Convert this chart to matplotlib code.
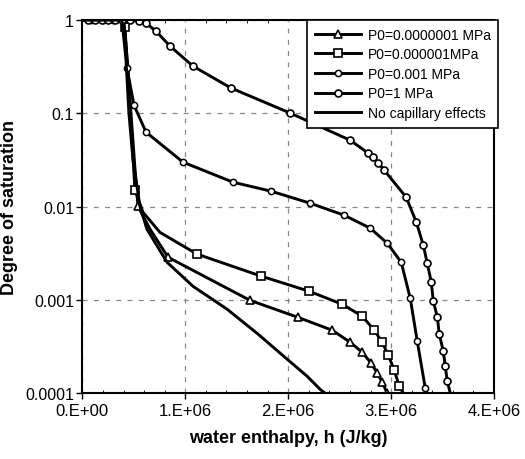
import matplotlib
matplotlib.use('Agg')
import matplotlib.pyplot as plt
import numpy as np
from matplotlib.ticker import FixedLocator, FixedFormatter, MultipleLocator

plt.rcParams['font.family'] = ['Liberation Sans', 'DejaVu Sans']

# enthalpy in 1E+06 J/kg, saturation
h_p1 = [0.0, 0.054, 0.122, 0.19, 0.248, 0.316, 0.384, 0.462, 0.55, 0.618, 0.715, 0.852,
        1.075, 1.445, 2.018, 2.602, 2.777, 2.826, 2.875, 2.933, 3.147, 3.245, 3.313,
        3.351, 3.39, 3.41, 3.449, 3.468, 3.507, 3.526, 3.546, 3.575]
s_p1 = [1, 1, 1, 1, 1, 1, 1, 1, 0.976, 0.929, 0.762, 0.526,
        0.321, 0.187, 0.101, 0.0516, 0.0375, 0.034, 0.0293, 0.0246, 0.0126, 0.00682, 0.00386,
        0.00248, 0.00155, 0.00097, 0.000653, 0.00043, 0.000282, 0.000195, 0.000134, 0.0001]

h_p3 = [0.0, 0.08, 0.2, 0.3, 0.404, 0.433, 0.501, 0.618, 0.978, 1.464, 1.834, 2.213, 2.544,
        2.797, 2.962, 3.098, 3.186, 3.254, 3.332, 3.35]
s_p3 = [1, 1, 1, 1, 1, 0.306, 0.1226, 0.063, 0.030, 0.0183, 0.01466, 0.0109, 0.0081,
        0.00588, 0.00406, 0.00254, 0.00104, 0.000361, 0.000113, 0.0001]

h_p6 = [0.0, 0.4, 0.413, 0.465, 0.511, 0.589, 0.754, 1.114, 1.737, 2.203, 2.524, 2.719,
        2.836, 2.914, 2.972, 3.03, 3.079, 3.118]
s_p6 = [1, 1, 0.84, 0.1, 0.015, 0.0087, 0.0053, 0.0031, 0.0018, 0.00124, 0.0009, 0.00067,
        0.000474, 0.000352, 0.000256, 0.000177, 0.000119, 0.0001]

h_p7 = [0.0, 0.404, 0.443, 0.472, 0.511, 0.54, 0.657, 0.832, 1.629, 2.096, 2.427, 2.602,
        2.719, 2.806, 2.865, 2.914, 2.962]
s_p7 = [1, 1, 0.298, 0.1, 0.0252, 0.0101, 0.00574, 0.00287, 0.00099, 0.00065, 0.000474,
        0.000352, 0.000275, 0.00021, 0.000164, 0.000131, 0.0001]

h_nc = [0.0, 0.384, 0.423, 0.452, 0.491, 0.559, 0.627, 0.822, 1.075, 1.406, 1.707, 1.989,
        2.184, 2.31, 2.359]
s_nc = [1, 1, 0.382, 0.1, 0.0323, 0.0101, 0.00574, 0.00254, 0.0014, 0.000796, 0.00043,
        0.000232, 0.000152, 0.00011, 0.0001]

mark_p1 = list(range(1, len(h_p1) - 1))
mark_p3 = [1, 2, 3, 5, 6, 7, 8, 9, 10, 11, 12, 13, 14, 15, 16, 17, 18]
mark_p6 = [2, 4, 7, 8, 9, 10, 11, 12, 13, 14, 15, 16]
mark_p7 = [5, 7, 8, 9, 10, 11, 12, 13, 14, 15, 16]

fig = plt.figure(figsize=(5.25, 4.6), dpi=100)
ax = fig.add_axes([0.157, 0.143, 0.784, 0.811])

sc = 1e6
ax.plot(np.array(h_p7) * sc, s_p7, '-', color='black', lw=2.1, marker='^', ms=6,
        mfc='white', mec='black', mew=1.2, markevery=mark_p7, label='P0=0.0000001 MPa')
ax.plot(np.array(h_p6) * sc, s_p6, '-', color='black', lw=2.1, marker='s', ms=5.5,
        mfc='white', mec='black', mew=1.2, markevery=mark_p6, label='P0=0.000001MPa')
ax.plot(np.array(h_p3) * sc, s_p3, '-', color='black', lw=2.1, marker='o', ms=4.5,
        mfc='white', mec='black', mew=1.1, markevery=mark_p3, label='P0=0.001 MPa')
ax.plot(np.array(h_p1) * sc, s_p1, '-', color='black', lw=2.1, marker='o', ms=5,
        mfc='white', mec='black', mew=1.2, markevery=mark_p1, label='P0=1 MPa')
ax.plot(np.array(h_nc) * sc, s_nc, '-', color='black', lw=2.1, label='No capillary effects')

ax.set_yscale('log')
ax.set_xlim(0, 4e6)
ax.set_ylim(1e-4, 1)

xt = [0, 1e6, 2e6, 3e6, 4e6]
ax.xaxis.set_major_locator(FixedLocator(xt))
ax.xaxis.set_major_formatter(FixedFormatter(['0.E+00', '1.E+06', '2.E+06', '3.E+06', '4.E+06']))
ax.xaxis.set_minor_locator(MultipleLocator(2e5))
yt = [1e-4, 1e-3, 1e-2, 1e-1, 1]
ax.yaxis.set_major_locator(FixedLocator(yt))
ax.yaxis.set_major_formatter(FixedFormatter(['0.0001', '0.001', '0.01', '0.1', '1']))

ax.grid(True, which='major', color='#888888', linestyle=(0, (4, 5)), lw=0.9)
ax.tick_params(axis='both', which='major', direction='out', length=4, labelsize=12,
               width=1, pad=3)
ax.tick_params(axis='y', which='major', labelsize=11.5, pad=2)
ax.tick_params(axis='x', which='minor', direction='in', length=2, top=True, bottom=True)
ax.tick_params(axis='y', which='minor', length=0)
for sp in ax.spines.values():
    sp.set_linewidth(1.5)

ax.set_xlabel('water enthalpy, h (J/kg)', fontsize=13, fontweight='bold', labelpad=8)
ax.set_ylabel('Degree of saturation', fontsize=13, fontweight='bold')
ax.yaxis.set_label_coords(-0.157, 0.5)

leg = ax.legend(loc='upper right', bbox_to_anchor=(1.01, 1.0), borderaxespad=0,
                fancybox=False, edgecolor='black', framealpha=1, fontsize=10,
                handlelength=3.3, handletextpad=0.5, labelspacing=0.4, borderpad=0.55)
leg.get_frame().set_linewidth(1.2)

fig.savefig('out.png', dpi=100)
